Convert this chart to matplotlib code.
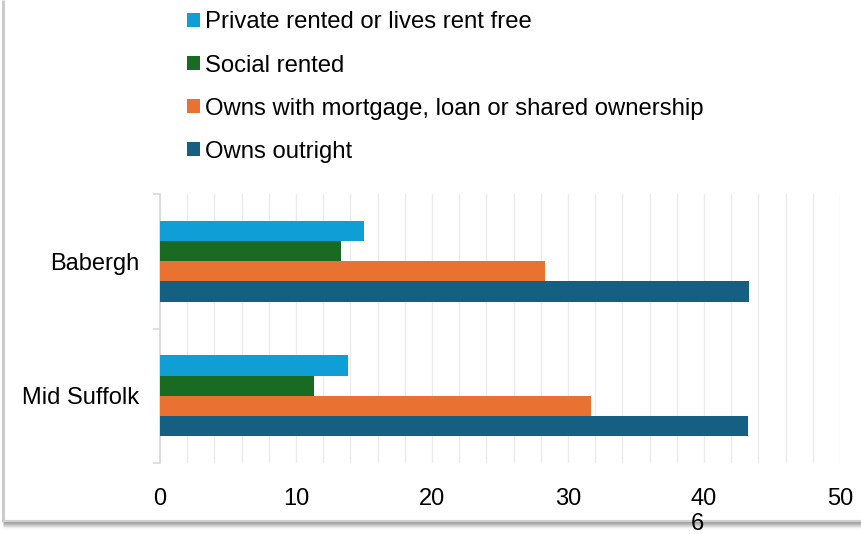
import matplotlib
matplotlib.use("Agg")
import matplotlib.pyplot as plt
import numpy as np
from matplotlib.lines import Line2D

plt.rcParams['font.family'] = ['Liberation Sans', 'DejaVu Sans']

categories = ["Babergh", "Mid Suffolk"]
series_names = ["Private rented or lives rent free", "Social rented",
                "Owns with mortgage, loan or shared ownership", "Owns outright"]
private_rented = [15.0, 13.8]
social_rented = [13.3, 11.3]
owns_mortgage = [28.3, 31.7]
owns_outright = [43.3, 43.2]
series_values = [private_rented, social_rented, owns_mortgage, owns_outright]
colors = ["#0F9ED5", "#196B24", "#E97132", "#156082"]
x_ticks = [0, 10, 20, 30, 40, 50]

W, H = 861, 534
fig = plt.figure(figsize=(W / 100, H / 100), dpi=100)
fig.patch.set_facecolor("white")

ax = fig.add_axes([160 / W, (H - 463) / H, 680 / W, (463 - 194) / H])

ypos = np.arange(len(categories))
bh = 0.15
offsets = [-1.5 * bh, -0.5 * bh, 0.5 * bh, 1.5 * bh]
handles = []
for vals, off, col, name in zip(series_values, offsets, colors, series_names):
    b = ax.barh(ypos + off, vals, height=bh, color=col, label=name, zorder=3)
    handles.append(b)

ax.set_xlim(0, 50)
ax.set_ylim(len(categories) - 0.5, -0.5)

# grid every 2 units
ax.set_xticks(np.arange(0, 51, 2), minor=True)
ax.set_xticks(x_ticks)
ax.set_xticklabels([str(t) for t in x_ticks])
ax.grid(axis="x", which="both", color="#EBEBEB", linewidth=1.0, zorder=0)
ax.tick_params(axis="x", which="both", length=0, labelsize=17, pad=18, colors="black")

ax.set_yticks(np.arange(-0.5, len(categories), 1.0))
ax.set_yticklabels([])
ax.set_yticks(ypos, minor=True)
ax.set_yticklabels(categories, minor=True)
ax.tick_params(axis="y", which="major", length=5, color="#D9D9D9", width=1.2)
ax.tick_params(axis="y", which="minor", length=0, labelsize=17, pad=15)

for s in ["top", "right", "bottom"]:
    ax.spines[s].set_visible(False)
ax.spines["left"].set_color("#D9D9D9")
ax.spines["left"].set_linewidth(1.2)

leg = fig.legend(handles=handles, loc="upper left",
                 bbox_to_anchor=(187 / W, (H - 11.5) / H), frameon=False,
                 fontsize=17.2, handlelength=0.55, handleheight=0.55,
                 handletextpad=0.2, labelspacing=0.88, borderpad=0,
                 borderaxespad=0)

# outer frame with shadow
def px_line(x0, y0, x1, y1, color, lw, alpha=1.0):
    fig.add_artist(Line2D([x0 / W, x1 / W], [(H - y0) / H, (H - y1) / H],
                          transform=fig.transFigure, color=color,
                          linewidth=lw, alpha=alpha, solid_capstyle="butt"))

for i, a in enumerate([0.7, 0.6, 0.5, 0.38, 0.25, 0.14, 0.06]):
    px_line(3, 522 + i, W, 522 + i, "#7A7A7A", 0.75, a)
px_line(3, 0, 3, 522, "#C8C8C8", 2.0)
px_line(3, 521, W, 521, "#D0D0D0", 1.5)

fig.text(697 / W, (H - 524) / H, "6", fontsize=17, ha="center", va="center")

fig.savefig("out.png", dpi=100)
